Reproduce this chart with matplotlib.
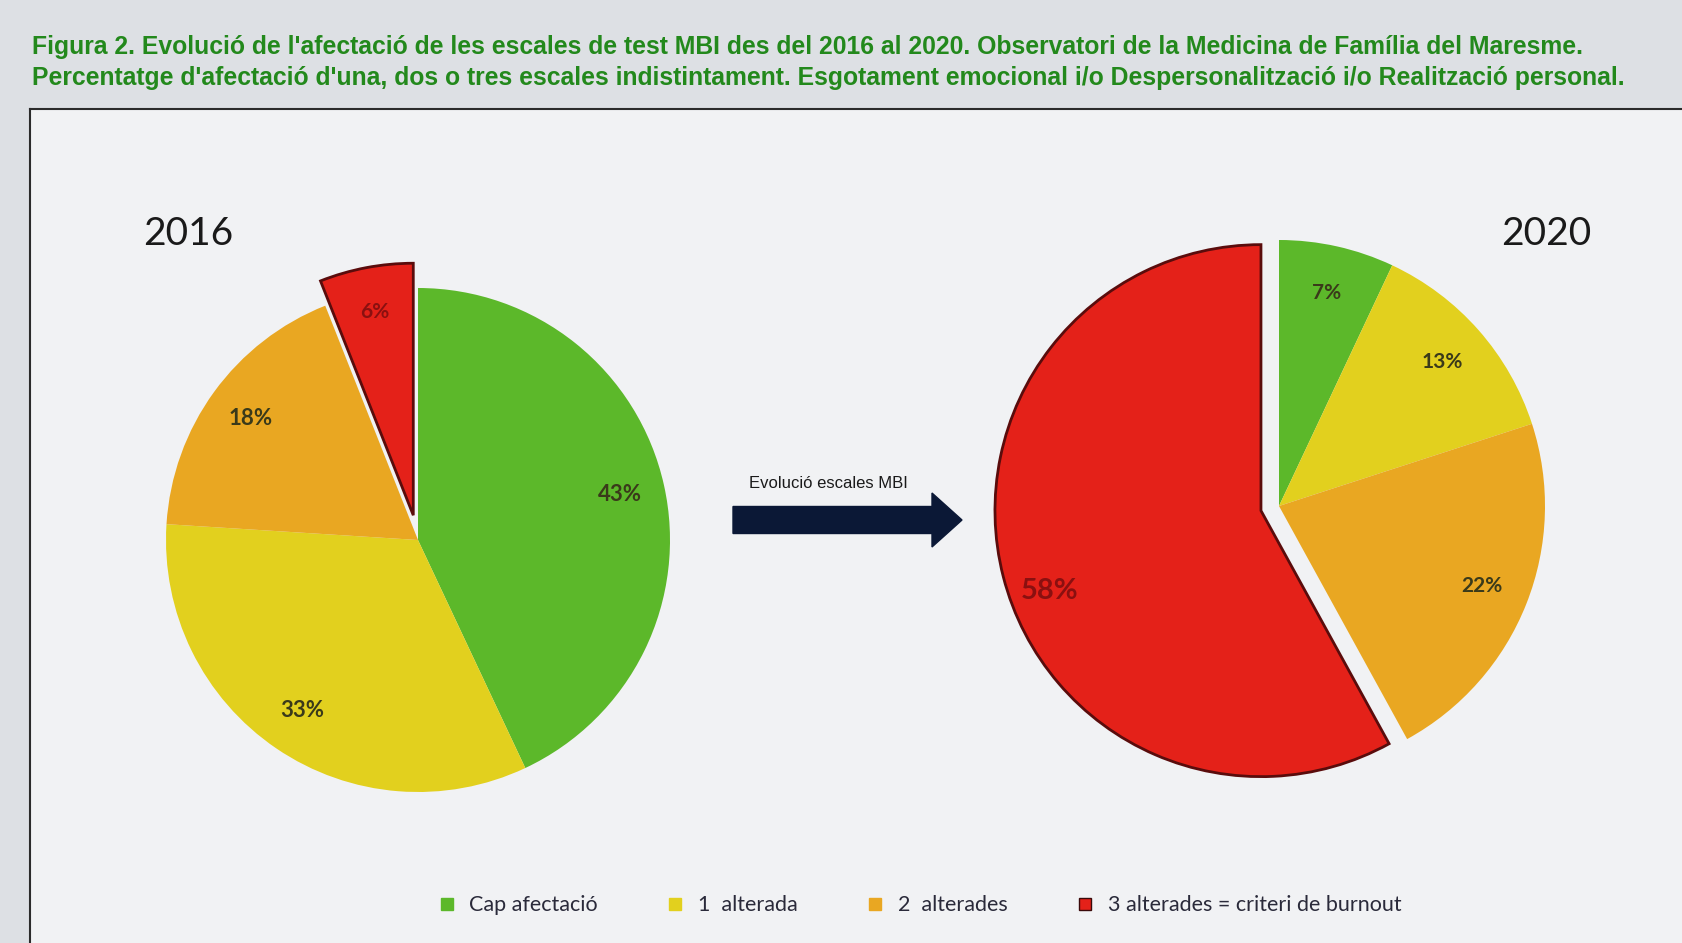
import matplotlib.pyplot as plt
from matplotlib.patches import FancyArrow
from matplotlib.lines import Line2D

# Data
categories = ['Cap afectació', '1  alterada', '2  alterades', '3 alterades = criteri de burnout']
values_2016 = [43, 33, 18, 6]
values_2020 = [7, 13, 22, 58]
years = ['2016', '2020']
colors = ['#5cb82a', '#e2d01e', '#e9a722', '#e42119']

title_1 = ("Figura 2. Evolució de l'afectació de les escales de test MBI des del 2016 al 2020. "
           "Observatori de la Medicina de Família del Maresme.")
title_2 = ("Percentatge d'afectació d'una, dos o tres escales indistintament. Esgotament emocional "
           "i/o Despersonalització i/o Realització personal.")
arrow_label = 'Evolució escales MBI'

W, H = 1682, 943
fig = plt.figure(figsize=(W / 100, H / 100), dpi=100)
fig.patch.set_facecolor('#dde0e4')

# framed chart area
bg = fig.add_axes([30 / W, -0.01, 1.0, 1 - 109 / H + 0.01])
bg.set_facecolor('#f1f2f4')
bg.set_xticks([])
bg.set_yticks([])
for s in bg.spines.values():
    s.set_color('#2b2b2b')
    s.set_linewidth(1.5)


def pie_axes(cx, cy, r, lim=1.3):
    half = lim * r
    ax = fig.add_axes([(cx - half) / W, 1 - (cy + half) / H, 2 * half / W, 2 * half / H])
    ax.set_xlim(-lim, lim)
    ax.set_ylim(-lim, lim)
    ax.set_aspect('equal')
    ax.axis('off')
    return ax


def draw_pie(ax, vals, explode, label_colors, label_sizes):
    wedges, _, autotexts = ax.pie(vals, colors=colors, startangle=90, counterclock=False,
                                  explode=explode, autopct='%d%%', pctdistance=0.82,
                                  wedgeprops=dict(linewidth=0), radius=1)
    ax.set_xlim(-1.3, 1.3)
    ax.set_ylim(-1.3, 1.3)
    wedges[3].set_edgecolor('#5a0c0c')
    wedges[3].set_linewidth(2)
    for t, c, s in zip(autotexts, label_colors, label_sizes):
        t.set_color(c)
        t.set_fontsize(s)
        t.set_fontfamily('Lato')
        t.set_fontweight('bold')
    return wedges, autotexts


ax1 = pie_axes(418, 540, 252)
draw_pie(ax1, values_2016, [0, 0, 0, 0.1],
         ['#3a3a1a', '#3a3a1a', '#3a3a1a', '#8a1010'], [16, 16, 16, 15])

ax2 = pie_axes(1279, 506, 266)
_, at2 = draw_pie(ax2, values_2020, [0, 0, 0, 0.07],
                  ['#3a3a1a', '#3a3a1a', '#3a3a1a', '#8a1010'], [15, 15, 15, 21])
# the big label sits a bit lower in the original
x58, y58 = at2[3].get_position()
at2[3].set_position((x58, y58 - 0.1))

# overlay in pixel coordinates for texts and arrow
ov = fig.add_axes([0, 0, 1, 1])
ov.set_xlim(0, W)
ov.set_ylim(H, 0)
ov.axis('off')

tfont = dict(family='Liberation Sans', fontweight='bold',
             color='#23891c', fontsize=17.8, va='center', ha='left')
ov.text(32, 47, title_1, **tfont)
ov.text(32, 78, title_2, **tfont)

ov.text(188, 234, years[0], fontsize=28, family='Lato', color='#1a1a1a', ha='center', va='center')
ov.text(1546, 234, years[1], fontsize=28, family='Lato', color='#1a1a1a', ha='center', va='center')

ov.add_patch(FancyArrow(733, 520, 229, 0, width=27, head_width=54, head_length=30,
                        length_includes_head=True, color='#0b1836'))
ov.text(828, 483, arrow_label, fontsize=12, family='Liberation Sans', color='#1a1a1a',
        ha='center', va='center')

handles = [Line2D([], [], linestyle='none', marker='s', markersize=8, markerfacecolor=c,
                  markeredgecolor='#3a0a0a' if i == 3 else c) for i, c in enumerate(colors)]
fig.legend(handles, categories, loc='center', bbox_to_anchor=(0.543, 0.04), ncol=4,
           frameon=False, handletextpad=0.05, columnspacing=2.6,
           prop=dict(family='Lato', size=15.5), labelcolor='#2a2a3a')

fig.savefig('out.png', dpi=100, facecolor=fig.get_facecolor())
